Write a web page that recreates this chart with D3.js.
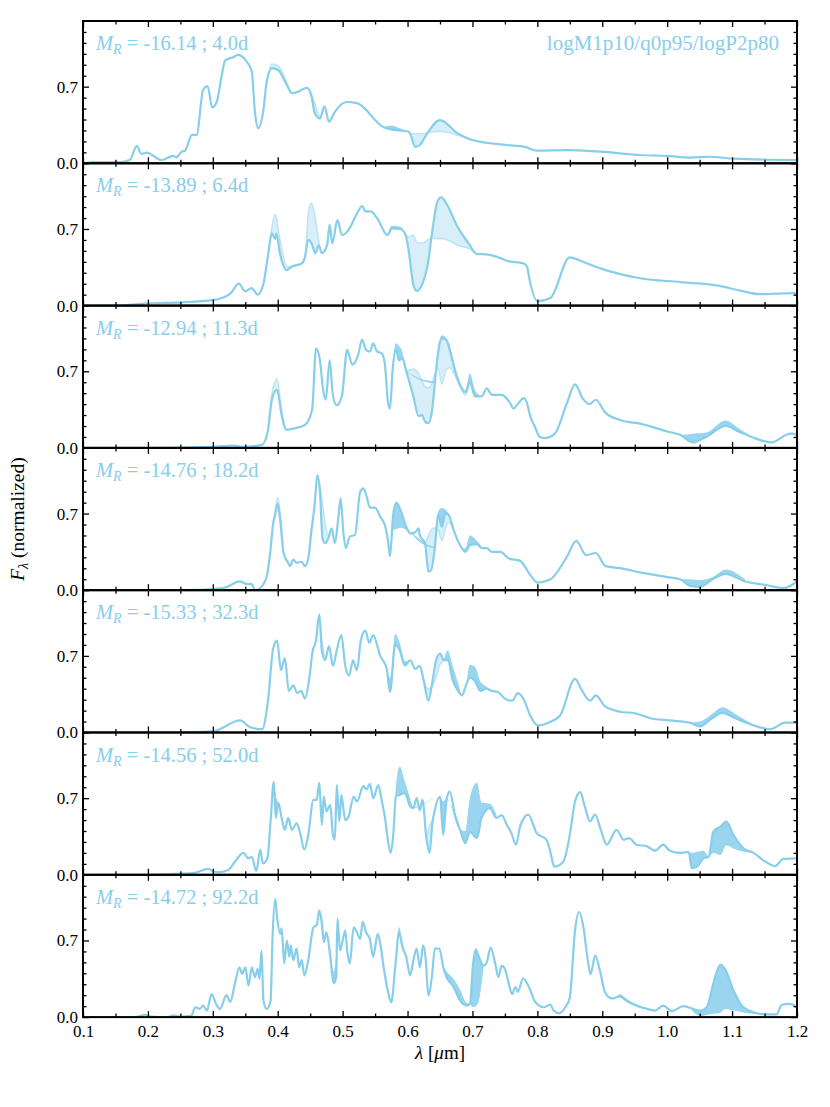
<!DOCTYPE html>
<html>
<head>
<meta charset="utf-8">
<script src="https://cdn.jsdelivr.net/npm/d3@7"></script>
<style>
  body { margin: 0; background: #fff; }
</style>
</head>
<body>
<svg id="chart" width="830" height="1107"></svg>
<script>
// epoch labels
const mags = ["-16.14", "-13.89", "-12.94", "-14.76", "-15.33", "-14.56", "-14.72"];
const days = ["4.0", "6.4", "11.3", "18.2", "32.3", "52.0", "92.2"];
const modelName = "logM1p10/q0p95/logP2p80";

const xTicks = [0.1, 0.2, 0.3, 0.4, 0.5, 0.6, 0.7, 0.8, 0.9, 1.0, 1.1, 1.2];
const yTicks = [0.0, 0.7];

// panel 1 (4.0d)
const wl1 = [0.10, 0.121, 0.157, 0.172, 0.183, 0.19, 0.198, 0.221, 0.239, 0.244, 0.252, 0.257, 0.268, 0.275, 0.285, 0.292, 0.299, 0.306, 0.314, 0.319, 0.332, 0.339, 0.352, 0.36, 0.365, 0.37, 0.378, 0.383, 0.391, 0.401, 0.414, 0.422, 0.432, 0.445, 0.452, 0.457, 0.465, 0.472, 0.479, 0.488, 0.506, 0.522, 0.563, 0.575, 0.588, 0.601, 0.604, 0.612, 0.619, 0.63, 0.65, 0.678, 0.701, 0.753, 0.781, 0.799, 0.845, 0.897, 0.958, 0.999, 1.035, 1.066, 1.102, 1.2];
const fl1 = [0.0, 0.01, 0.01, 0.03, 0.16, 0.085, 0.097, 0.03, 0.067, 0.055, 0.106, 0.115, 0.26, 0.26, 0.67, 0.705, 0.51, 0.56, 0.81, 0.94, 0.97, 0.99, 0.93, 0.84, 0.46, 0.32, 0.49, 0.745, 0.87, 0.85, 0.715, 0.64, 0.655, 0.69, 0.61, 0.46, 0.41, 0.52, 0.38, 0.47, 0.56, 0.55, 0.33, 0.31, 0.30, 0.29, 0.27, 0.15, 0.167, 0.27, 0.395, 0.27, 0.21, 0.167, 0.15, 0.115, 0.12, 0.106, 0.076, 0.067, 0.052, 0.06, 0.042, 0.03];
const light1 = [[0.383, 0.745], [0.391, 0.91], [0.401, 0.89], [0.414, 0.74], [0.422, 0.64], [0.445, 0.69], [0.452, 0.64], [0.457, 0.55], [0.465, 0.43], [0.472, 0.52], [0.604, 0.27], [0.612, 0.27], [0.619, 0.27], [0.63, 0.28], [0.65, 0.29], [0.678, 0.255], [0.701, 0.21]];
const dark1 = [[0.563, 0.33], [0.575, 0.345], [0.588, 0.32], [0.601, 0.29]];

// panel 2 (6.4d)
const wl2 = [0.10, 0.15, 0.2, 0.25, 0.3, 0.327, 0.34, 0.35, 0.36, 0.369, 0.378, 0.385, 0.391, 0.396, 0.398, 0.403, 0.414, 0.421, 0.437, 0.442, 0.447, 0.452, 0.458, 0.463, 0.468, 0.476, 0.48, 0.484, 0.492, 0.499, 0.509, 0.522, 0.53, 0.535, 0.543, 0.553, 0.569, 0.576, 0.589, 0.597, 0.602, 0.609, 0.614, 0.623, 0.631, 0.638, 0.646, 0.652, 0.661, 0.677, 0.694, 0.707, 0.717, 0.738, 0.753, 0.779, 0.784, 0.788, 0.80, 0.82, 0.85, 0.87, 0.897, 0.958, 1.02, 1.081, 1.11, 1.143, 1.17, 1.2];
const fl2 = [0.0, 0.0, 0.02, 0.03, 0.05, 0.11, 0.20, 0.13, 0.16, 0.10, 0.20, 0.46, 0.66, 0.61, 0.66, 0.49, 0.325, 0.355, 0.385, 0.445, 0.60, 0.57, 0.48, 0.55, 0.48, 0.55, 0.74, 0.57, 0.78, 0.645, 0.69, 0.84, 0.91, 0.86, 0.86, 0.80, 0.645, 0.705, 0.70, 0.645, 0.49, 0.19, 0.135, 0.20, 0.37, 0.675, 0.95, 0.99, 0.92, 0.72, 0.57, 0.47, 0.47, 0.445, 0.41, 0.385, 0.355, 0.235, 0.04, 0.07, 0.44, 0.40, 0.34, 0.25, 0.215, 0.18, 0.14, 0.105, 0.11, 0.115];
const light2 = [[0.385, 0.46], [0.391, 0.72], [0.396, 0.835], [0.398, 0.80], [0.403, 0.62], [0.414, 0.36], [0.421, 0.355], [0.437, 0.385], [0.442, 0.445], [0.447, 0.85], [0.452, 0.935], [0.458, 0.80], [0.463, 0.60], [0.468, 0.48], [0.476, 0.55], [0.48, 0.68], [0.484, 0.57], [0.597, 0.645], [0.602, 0.63], [0.609, 0.645], [0.614, 0.58], [0.623, 0.57], [0.631, 0.60], [0.638, 0.62], [0.646, 0.61], [0.652, 0.61], [0.661, 0.60], [0.677, 0.55], [0.694, 0.52], [0.707, 0.47]];
const dark2 = [[0.569, 0.645], [0.576, 0.73], [0.589, 0.72], [0.597, 0.66]];

// panel 3 (11.3d)
const wl3 = [0.10, 0.2, 0.3, 0.33, 0.35, 0.376, 0.385, 0.391, 0.399, 0.406, 0.413, 0.427, 0.442, 0.453, 0.459, 0.465, 0.47, 0.474, 0.48, 0.485, 0.491, 0.499, 0.507, 0.515, 0.524, 0.53, 0.536, 0.542, 0.547, 0.553, 0.56, 0.565, 0.57, 0.573, 0.577, 0.582, 0.587, 0.592, 0.598, 0.609, 0.617, 0.622, 0.627, 0.632, 0.638, 0.642, 0.647, 0.653, 0.66, 0.665, 0.673, 0.681, 0.689, 0.696, 0.704, 0.714, 0.722, 0.73, 0.745, 0.758, 0.763, 0.771, 0.779, 0.784, 0.789, 0.796, 0.804, 0.812, 0.827, 0.845, 0.858, 0.87, 0.88, 0.89, 0.905, 0.93, 0.96, 1.0, 1.02, 1.04, 1.06, 1.09, 1.11, 1.13, 1.16, 1.19, 1.2];
const fl3 = [0.0, 0.0, 0.01, 0.02, 0.01, 0.03, 0.16, 0.44, 0.53, 0.30, 0.165, 0.18, 0.21, 0.35, 0.91, 0.80, 0.53, 0.44, 0.80, 0.48, 0.39, 0.48, 0.895, 0.76, 0.85, 0.99, 0.895, 0.88, 0.955, 0.88, 0.865, 0.77, 0.41, 0.36, 0.71, 0.90, 0.80, 0.82, 0.70, 0.47, 0.29, 0.30, 0.24, 0.225, 0.35, 0.59, 0.865, 1.0, 0.985, 0.895, 0.71, 0.575, 0.51, 0.605, 0.47, 0.47, 0.545, 0.485, 0.485, 0.41, 0.36, 0.41, 0.455, 0.41, 0.29, 0.195, 0.10, 0.09, 0.13, 0.40, 0.58, 0.45, 0.40, 0.44, 0.32, 0.25, 0.22, 0.15, 0.12, 0.05, 0.10, 0.20, 0.15, 0.10, 0.05, 0.13, 0.12];
const light3 = [[0.385, 0.16], [0.391, 0.50], [0.399, 0.63], [0.406, 0.35], [0.413, 0.165], [0.598, 0.70], [0.609, 0.72], [0.617, 0.68], [0.622, 0.62], [0.627, 0.56], [0.632, 0.55], [0.638, 0.60], [0.642, 0.68], [0.647, 0.72], [0.653, 0.58], [0.66, 0.72], [0.665, 0.73], [0.673, 0.66], [0.681, 0.56], [0.689, 0.48], [0.696, 0.60]];
const dark3 = [[0.573, 0.36], [0.577, 0.75], [0.582, 0.955], [0.587, 0.93], [0.592, 0.88], [0.598, 0.70], [0.642, 0.61], [0.647, 0.92], [0.653, 1.03], [0.66, 1.0], [0.665, 0.93], [0.673, 0.74], [0.681, 0.575], [0.689, 0.51], [0.696, 0.68], [0.704, 0.53], [0.714, 0.47], [1.0, 0.15], [1.02, 0.12], [1.04, 0.13], [1.06, 0.14], [1.09, 0.25], [1.11, 0.18], [1.13, 0.10]];

// panel 4 (18.2d)
const wl4 = [0.10, 0.249, 0.316, 0.342, 0.35, 0.36, 0.365, 0.373, 0.383, 0.388, 0.393, 0.396, 0.40, 0.404, 0.409, 0.416, 0.419, 0.424, 0.429, 0.437, 0.442, 0.447, 0.452, 0.457, 0.461, 0.465, 0.469, 0.473, 0.478, 0.483, 0.488, 0.493, 0.497, 0.501, 0.505, 0.511, 0.519, 0.527, 0.532, 0.537, 0.542, 0.55, 0.558, 0.565, 0.57, 0.573, 0.578, 0.583, 0.59, 0.598, 0.604, 0.612, 0.617, 0.619, 0.627, 0.632, 0.636, 0.642, 0.647, 0.653, 0.658, 0.663, 0.671, 0.678, 0.689, 0.696, 0.707, 0.714, 0.722, 0.73, 0.743, 0.756, 0.773, 0.789, 0.80, 0.82, 0.845, 0.86, 0.875, 0.89, 0.905, 0.93, 0.96, 1.0, 1.02, 1.035, 1.05, 1.07, 1.09, 1.12, 1.15, 1.18, 1.2];
const fl4 = [0.0, 0.0, 0.02, 0.08, 0.06, 0.055, 0.0, 0.02, 0.125, 0.32, 0.61, 0.69, 0.79, 0.63, 0.34, 0.25, 0.22, 0.28, 0.25, 0.26, 0.22, 0.29, 0.55, 0.79, 1.05, 0.90, 0.475, 0.43, 0.475, 0.565, 0.43, 0.64, 0.84, 0.535, 0.385, 0.49, 0.505, 0.90, 0.93, 0.855, 0.755, 0.755, 0.67, 0.595, 0.445, 0.31, 0.70, 0.80, 0.72, 0.58, 0.52, 0.53, 0.565, 0.50, 0.43, 0.17, 0.18, 0.385, 0.69, 0.58, 0.70, 0.69, 0.55, 0.445, 0.35, 0.41, 0.42, 0.385, 0.385, 0.35, 0.35, 0.29, 0.27, 0.14, 0.07, 0.10, 0.30, 0.45, 0.32, 0.34, 0.22, 0.20, 0.16, 0.12, 0.10, 0.04, 0.03, 0.10, 0.15, 0.08, 0.05, 0.02, 0.08];
const light4 = [[0.393, 0.61], [0.396, 0.72], [0.40, 0.85], [0.404, 0.70], [0.409, 0.34], [0.461, 1.05], [0.465, 0.96], [0.469, 0.80], [0.473, 0.62], [0.478, 0.50], [0.483, 0.565], [0.619, 0.50], [0.627, 0.43], [0.632, 0.50], [0.636, 0.55], [0.642, 0.57], [0.647, 0.55], [0.653, 0.45], [0.658, 0.55], [0.663, 0.62], [0.671, 0.55]];
const dark4 = [[0.573, 0.40], [0.578, 0.55], [0.583, 0.56], [0.59, 0.57], [0.598, 0.55], [0.642, 0.40], [0.647, 0.72], [0.653, 0.75], [0.658, 0.74], [0.663, 0.70], [0.671, 0.55], [0.689, 0.38], [0.696, 0.50], [0.707, 0.45], [0.714, 0.40], [1.02, 0.10], [1.035, 0.10], [1.05, 0.09], [1.07, 0.12], [1.09, 0.19], [1.12, 0.10]];

// panel 5 (32.3d)
const wl5 = [0.10, 0.25, 0.30, 0.342, 0.357, 0.376, 0.385, 0.393, 0.399, 0.405, 0.411, 0.417, 0.424, 0.43, 0.436, 0.442, 0.448, 0.454, 0.459, 0.464, 0.468, 0.473, 0.479, 0.485, 0.491, 0.498, 0.504, 0.51, 0.516, 0.522, 0.528, 0.535, 0.541, 0.547, 0.558, 0.568, 0.573, 0.581, 0.588, 0.596, 0.604, 0.612, 0.619, 0.625, 0.632, 0.638, 0.644, 0.65, 0.656, 0.662, 0.67, 0.678, 0.684, 0.69, 0.696, 0.704, 0.712, 0.721, 0.73, 0.739, 0.75, 0.761, 0.77, 0.78, 0.789, 0.801, 0.817, 0.835, 0.858, 0.869, 0.881, 0.89, 0.904, 0.927, 0.951, 0.974, 1.004, 1.035, 1.05, 1.069, 1.085, 1.105, 1.128, 1.159, 1.182, 1.2];
const fl5 = [0.0, 0.0, 0.01, 0.11, 0.05, 0.03, 0.29, 0.77, 0.84, 0.57, 0.68, 0.38, 0.43, 0.36, 0.38, 0.31, 0.47, 0.75, 0.84, 1.08, 0.75, 0.66, 0.79, 0.61, 0.75, 0.89, 0.61, 0.52, 0.66, 0.57, 0.84, 0.93, 0.82, 0.89, 0.70, 0.58, 0.37, 0.80, 0.75, 0.61, 0.66, 0.58, 0.61, 0.47, 0.29, 0.45, 0.66, 0.72, 0.66, 0.66, 0.47, 0.38, 0.34, 0.43, 0.50, 0.47, 0.38, 0.40, 0.38, 0.37, 0.31, 0.29, 0.36, 0.29, 0.155, 0.065, 0.09, 0.155, 0.49, 0.38, 0.29, 0.34, 0.24, 0.19, 0.175, 0.13, 0.11, 0.09, 0.055, 0.13, 0.18, 0.13, 0.075, 0.03, 0.09, 0.09];
const light5 = [[0.459, 0.84], [0.464, 1.08], [0.468, 0.86], [0.473, 0.70], [0.479, 0.79], [0.619, 0.61], [0.625, 0.47], [0.632, 0.40], [0.638, 0.42], [0.644, 0.50], [0.65, 0.62], [0.656, 0.66]];
const dark5 = [[0.568, 0.58], [0.573, 0.50], [0.581, 0.90], [0.588, 0.82], [0.596, 0.65], [0.604, 0.66], [0.656, 0.66], [0.662, 0.75], [0.67, 0.60], [0.678, 0.45], [0.684, 0.34], [0.69, 0.43], [0.696, 0.62], [0.704, 0.60], [0.712, 0.47], [0.721, 0.42], [0.73, 0.38], [1.004, 0.11], [1.035, 0.09], [1.05, 0.10], [1.069, 0.17], [1.085, 0.23], [1.105, 0.17], [1.128, 0.09], [1.159, 0.03]];

// panel 6 (52.0d)
const wl6 = [0.10, 0.2, 0.25, 0.27, 0.293, 0.301, 0.311, 0.324, 0.334, 0.347, 0.355, 0.36, 0.367, 0.373, 0.377, 0.384, 0.389, 0.394, 0.397, 0.401, 0.406, 0.411, 0.416, 0.422, 0.429, 0.434, 0.441, 0.447, 0.455, 0.46, 0.464, 0.468, 0.471, 0.475, 0.481, 0.485, 0.488, 0.491, 0.495, 0.498, 0.504, 0.509, 0.517, 0.522, 0.532, 0.537, 0.542, 0.547, 0.555, 0.56, 0.565, 0.57, 0.574, 0.578, 0.582, 0.588, 0.596, 0.604, 0.609, 0.614, 0.619, 0.623, 0.629, 0.634, 0.638, 0.642, 0.65, 0.655, 0.66, 0.665, 0.673, 0.681, 0.689, 0.696, 0.707, 0.714, 0.727, 0.737, 0.745, 0.753, 0.76, 0.767, 0.774, 0.786, 0.799, 0.814, 0.82, 0.826, 0.84, 0.85, 0.858, 0.866, 0.873, 0.881, 0.889, 0.897, 0.907, 0.922, 0.933, 0.941, 0.953, 0.969, 0.981, 0.994, 1.004, 1.02, 1.033, 1.038, 1.046, 1.056, 1.064, 1.071, 1.082, 1.091, 1.102, 1.118, 1.133, 1.149, 1.166, 1.179, 1.2];
const fl6 = [0.0, 0.0, 0.01, 0.015, 0.055, 0.03, 0.025, 0.045, 0.12, 0.20, 0.15, 0.165, 0.035, 0.23, 0.105, 0.15, 0.49, 0.85, 0.52, 0.655, 0.52, 0.41, 0.52, 0.41, 0.47, 0.395, 0.23, 0.365, 0.685, 0.685, 0.84, 0.455, 0.715, 0.58, 0.64, 0.365, 0.32, 0.82, 0.49, 0.73, 0.50, 0.53, 0.715, 0.67, 0.81, 0.78, 0.83, 0.70, 0.82, 0.685, 0.53, 0.305, 0.20, 0.365, 0.715, 0.73, 0.745, 0.625, 0.61, 0.70, 0.59, 0.685, 0.335, 0.20, 0.455, 0.59, 0.715, 0.365, 0.685, 0.76, 0.55, 0.41, 0.29, 0.395, 0.335, 0.52, 0.61, 0.52, 0.545, 0.455, 0.38, 0.275, 0.455, 0.55, 0.38, 0.32, 0.21, 0.075, 0.12, 0.365, 0.67, 0.755, 0.625, 0.49, 0.55, 0.425, 0.275, 0.41, 0.32, 0.335, 0.275, 0.26, 0.22, 0.275, 0.22, 0.20, 0.21, 0.06, 0.075, 0.15, 0.165, 0.395, 0.44, 0.485, 0.365, 0.24, 0.20, 0.13, 0.08, 0.145, 0.15];
const light6 = [[0.464, 0.84], [0.468, 0.60], [0.471, 0.715], [0.629, 0.335], [0.634, 0.45], [0.638, 0.50], [0.642, 0.59]];
const dark6 = [[0.384, 0.15], [0.389, 0.55], [0.394, 0.80], [0.397, 0.72], [0.401, 0.655], [0.578, 0.365], [0.582, 0.80], [0.588, 0.99], [0.596, 0.85], [0.604, 0.70], [0.609, 0.62], [0.65, 0.715], [0.655, 0.67], [0.66, 0.70], [0.681, 0.41], [0.689, 0.40], [0.696, 0.70], [0.707, 0.84], [0.714, 0.66], [0.727, 0.65], [0.737, 0.55], [1.033, 0.21], [1.038, 0.20], [1.046, 0.21], [1.056, 0.22], [1.064, 0.17], [1.071, 0.20], [1.082, 0.18], [1.091, 0.27], [1.102, 0.24], [1.118, 0.21], [1.133, 0.20]];

// panel 7 (92.2d)
const wl7 = [0.10, 0.18, 0.195, 0.205, 0.23, 0.24, 0.249, 0.267, 0.273, 0.28, 0.285, 0.291, 0.298, 0.305, 0.311, 0.321, 0.327, 0.334, 0.341, 0.345, 0.35, 0.355, 0.36, 0.365, 0.369, 0.372, 0.375, 0.378, 0.383, 0.389, 0.392, 0.396, 0.399, 0.404, 0.406, 0.41, 0.414, 0.418, 0.42, 0.424, 0.429, 0.433, 0.437, 0.441, 0.447, 0.455, 0.46, 0.464, 0.468, 0.471, 0.475, 0.481, 0.486, 0.49, 0.492, 0.496, 0.50, 0.504, 0.507, 0.511, 0.517, 0.522, 0.527, 0.531, 0.536, 0.542, 0.547, 0.554, 0.558, 0.564, 0.57, 0.575, 0.581, 0.587, 0.592, 0.598, 0.604, 0.609, 0.614, 0.619, 0.624, 0.628, 0.632, 0.638, 0.642, 0.649, 0.655, 0.66, 0.671, 0.681, 0.691, 0.696, 0.701, 0.705, 0.709, 0.717, 0.722, 0.728, 0.735, 0.74, 0.745, 0.75, 0.756, 0.761, 0.766, 0.77, 0.778, 0.787, 0.797, 0.81, 0.82, 0.825, 0.833, 0.843, 0.85, 0.858, 0.864, 0.871, 0.877, 0.882, 0.889, 0.897, 0.904, 0.915, 0.927, 0.937, 0.953, 0.969, 0.981, 0.994, 1.007, 1.025, 1.035, 1.051, 1.061, 1.071, 1.082, 1.089, 1.102, 1.115, 1.133, 1.151, 1.169, 1.176, 1.189, 1.2];
const fl7 = [0.0, 0.0, 0.02, 0.005, 0.0, 0.015, 0.005, 0.015, 0.09, 0.075, 0.105, 0.06, 0.21, 0.12, 0.075, 0.20, 0.14, 0.305, 0.455, 0.395, 0.455, 0.29, 0.455, 0.365, 0.44, 0.35, 0.61, 0.15, 0.075, 0.15, 0.73, 1.08, 0.91, 0.76, 0.81, 0.49, 0.70, 0.55, 0.655, 0.52, 0.625, 0.455, 0.52, 0.38, 0.52, 0.82, 0.84, 0.975, 0.85, 0.685, 0.775, 0.55, 0.31, 0.365, 0.90, 0.61, 0.70, 0.79, 0.61, 0.49, 0.82, 0.775, 0.715, 0.87, 0.775, 0.715, 0.55, 0.76, 0.67, 0.425, 0.23, 0.135, 0.455, 0.775, 0.64, 0.55, 0.38, 0.52, 0.625, 0.455, 0.655, 0.53, 0.20, 0.395, 0.625, 0.625, 0.455, 0.365, 0.275, 0.15, 0.105, 0.12, 0.49, 0.62, 0.565, 0.47, 0.50, 0.635, 0.49, 0.365, 0.47, 0.44, 0.305, 0.21, 0.275, 0.23, 0.355, 0.275, 0.135, 0.09, 0.115, 0.06, 0.035, 0.09, 0.18, 0.79, 0.96, 0.82, 0.55, 0.39, 0.565, 0.41, 0.23, 0.17, 0.19, 0.15, 0.105, 0.075, 0.06, 0.105, 0.055, 0.10, 0.085, 0.06, 0.09, 0.305, 0.48, 0.44, 0.245, 0.105, 0.045, 0.025, 0.025, 0.11, 0.12, 0.09];
const light7 = [[0.464, 0.975], [0.468, 0.90], [0.471, 0.72]];
const dark7 = [[0.475, 0.775], [0.481, 0.62], [0.486, 0.42], [0.49, 0.55], [0.492, 0.85], [0.581, 0.455], [0.587, 0.82], [0.592, 0.70], [0.598, 0.55], [0.649, 0.625], [0.655, 0.47], [0.66, 0.42], [0.671, 0.35], [0.681, 0.25], [0.691, 0.13], [0.696, 0.12], [0.701, 0.09], [0.705, 0.10], [0.709, 0.13], [0.717, 0.45], [0.922, 0.18], [0.927, 0.21], [0.937, 0.17], [0.953, 0.115], [1.035, 0.085], [1.051, 0.01], [1.061, 0.02], [1.071, 0.03], [1.082, 0.04], [1.089, 0.075], [1.102, 0.06], [1.115, 0.045], [1.133, 0.03], [1.151, 0.025]];

const panels = [
  { wl: wl1, fl: fl1, light: light1, dark: dark1 },
  { wl: wl2, fl: fl2, light: light2, dark: dark2 },
  { wl: wl3, fl: fl3, light: light3, dark: dark3 },
  { wl: wl4, fl: fl4, light: light4, dark: dark4 },
  { wl: wl5, fl: fl5, light: light5, dark: dark5 },
  { wl: wl6, fl: fl6, light: light6, dark: dark6 },
  { wl: wl7, fl: fl7, light: light7, dark: dark7 }
];

const color = "#87CEEB";
const serif = "'Liberation Serif', 'Times New Roman', Times, 'DejaVu Serif', serif";
const plotLeft = 83, plotRight = 797, plotTop = 21, panelH = 142.3;

const svg = d3.select("#chart");

const x = d3.scaleLinear().domain([0.1, 1.2]).range([plotLeft, plotRight]);

// main flux at a band wavelength (looked up in the panel's own arrays)
function mainAt(p, w) {
  let i = d3.bisectLeft(p.wl, w);
  if (i >= p.wl.length) i = p.wl.length - 1;
  if (i > 0 && Math.abs(p.wl[i - 1] - w) < Math.abs(p.wl[i] - w)) i = i - 1;
  return p.fl[i];
}

// split band arrays into contiguous runs (gaps > 0.05 um)
function runs(arr) {
  const out = [];
  let cur = [];
  arr.forEach(function(d, i) {
    if (i > 0 && d[0] - arr[i - 1][0] > 0.05) { out.push(cur); cur = []; }
    cur.push(d);
  });
  if (cur.length) out.push(cur);
  return out;
}

const xMinor = d3.range(0.15, 1.2, 0.1);
const yMinor = d3.range(0.1, 1.3, 0.1).filter(v => Math.abs(v - 0.7) > 1e-6);

panels.forEach(function(p, k) {
  const y0 = plotTop + k * panelH;
  const y = d3.scaleLinear().domain([0, 1.3]).range([y0 + panelH, y0]);
  const g = svg.append("g").attr("class", "panel");

  g.append("clipPath").attr("id", "clip" + k)
    .append("rect").attr("x", plotLeft).attr("y", y0).attr("width", plotRight - plotLeft).attr("height", panelH);

  const plot = g.append("g").attr("clip-path", "url(#clip" + k + ")");

  const band = d3.area()
      .x(d => x(d[0]))
      .y0(d => y(mainAt(p, d[0])))
      .y1(d => y(d[1]))
      .curve(d3.curveMonotoneX);

  const altLine = d3.line()
      .x(d => x(d[0]))
      .y(d => y(d[1]))
      .curve(d3.curveMonotoneX);

  runs(p.light).forEach(function(r) {
    plot.append("path").attr("d", band(r))
      .attr("fill", color).attr("fill-opacity", 0.32).attr("stroke", "none");
    plot.append("path").attr("d", altLine(r))
      .attr("fill", "none").attr("stroke", color).attr("stroke-opacity", 0.45).attr("stroke-width", 1.5);
  });

  runs(p.dark).forEach(function(r) {
    plot.append("path").attr("d", band(r))
      .attr("fill", color).attr("fill-opacity", 0.85).attr("stroke", "none");
  });

  const line = d3.line()
      .x((d, i) => x(p.wl[i]))
      .y(d => y(d))
      .curve(d3.curveMonotoneX);

  plot.append("path").attr("d", line(p.fl))
    .attr("fill", "none").attr("stroke", color).attr("stroke-width", 2.2)
    .attr("stroke-linejoin", "round");

  // ticks (inward on all four sides)
  const isLast = k === panels.length - 1;
  const axB = g.append("g").attr("transform", "translate(0," + (y0 + panelH) + ")")
    .call(d3.axisBottom(x).tickValues(xTicks).tickSize(-6).tickPadding(8)
      .tickFormat(isLast ? d3.format(".1f") : () => ""));
  const axBm = g.append("g").attr("transform", "translate(0," + (y0 + panelH) + ")")
    .call(d3.axisBottom(x).tickValues(xMinor).tickSize(-3.5).tickFormat(() => ""));
  const axT = g.append("g").attr("transform", "translate(0," + y0 + ")")
    .call(d3.axisTop(x).tickValues(xTicks).tickSize(-6).tickFormat(() => ""));
  const axTm = g.append("g").attr("transform", "translate(0," + y0 + ")")
    .call(d3.axisTop(x).tickValues(xMinor).tickSize(-3.5).tickFormat(() => ""));
  const axL = g.append("g").attr("transform", "translate(" + plotLeft + ",0)")
    .call(d3.axisLeft(y).tickValues(yTicks).tickSize(-6).tickPadding(5).tickFormat(d3.format(".1f")));
  const axLm = g.append("g").attr("transform", "translate(" + plotLeft + ",0)")
    .call(d3.axisLeft(y).tickValues(yMinor).tickSize(-3.5).tickFormat(() => ""));
  const axR = g.append("g").attr("transform", "translate(" + plotRight + ",0)")
    .call(d3.axisRight(y).tickValues(yTicks).tickSize(-6).tickFormat(() => ""));
  const axRm = g.append("g").attr("transform", "translate(" + plotRight + ",0)")
    .call(d3.axisRight(y).tickValues(yMinor).tickSize(-3.5).tickFormat(() => ""));

  [axB, axBm, axT, axTm, axL, axLm, axR, axRm].forEach(function(a) {
    a.attr("font-family", serif).attr("font-size", 17);
    a.select(".domain").remove();
    a.selectAll("line").attr("stroke", "#000").attr("stroke-width", 1.3);
    a.selectAll("text").attr("fill", "#000");
  });

  g.append("rect").attr("x", plotLeft).attr("y", y0).attr("width", plotRight - plotLeft).attr("height", panelH)
    .attr("fill", "none").attr("stroke", "#000").attr("stroke-width", 2);

  // epoch label
  const lab = g.append("text").attr("x", 96).attr("y", y0 + 29)
    .attr("fill", color).attr("font-size", 20.5);
  lab.append("tspan").attr("font-style", "italic").text("M");
  lab.append("tspan").attr("font-style", "italic").attr("font-size", 14).attr("dy", 4).text("R");
  lab.append("tspan").attr("dy", -4).text(" = " + mags[k] + " ; " + days[k] + "d");

  if (k === 0) {
    g.append("text").attr("x", 779).attr("y", y0 + 29).attr("text-anchor", "end")
      .attr("fill", color).attr("font-size", 21).text(modelName);
  }
});

// axis titles
const xl = svg.append("text").attr("x", (plotLeft + plotRight) / 2).attr("y", 1059)
  .attr("text-anchor", "middle").attr("font-size", 19);
xl.append("tspan").attr("font-style", "italic").text("λ");
xl.append("tspan").text(" [");
xl.append("tspan").attr("font-style", "italic").text("μ");
xl.append("tspan").text("m]");

const yl = svg.append("text")
  .attr("transform", "translate(24," + (plotTop + panelH * 3.5) + ") rotate(-90)")
  .attr("text-anchor", "middle").attr("font-size", 19.5);
yl.append("tspan").attr("font-style", "italic").text("F");
yl.append("tspan").attr("font-style", "italic").attr("font-size", 14).attr("dy", 4).text("λ");
yl.append("tspan").attr("dy", -4).text(" (normalized)");

svg.selectAll("text").attr("font-family", serif).style("font-family", serif);
</script>
</body>
</html>
